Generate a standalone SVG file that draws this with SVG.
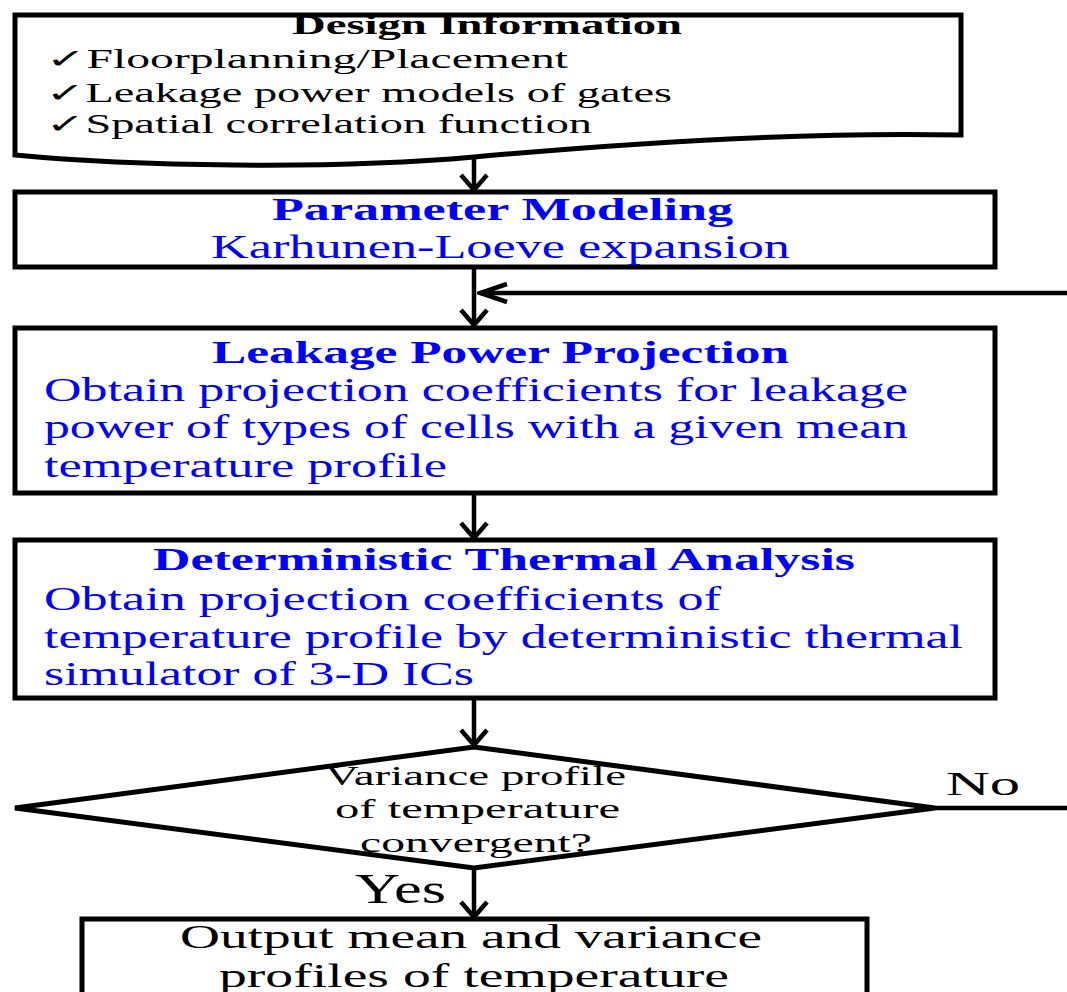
<svg xmlns="http://www.w3.org/2000/svg" width="1067" height="992" viewBox="0 0 1067 992">
<style>
.box{fill:#fff;stroke:#000;stroke-width:5;stroke-linejoin:miter}
.conn{fill:none;stroke:#000;stroke-width:4.5}
.t{font-family:"Liberation Serif","DejaVu Serif",serif}
.blk{fill:#000}
.blu{fill:#0000ff}
.b{font-weight:bold}
</style>
<defs>
<marker id="arr" markerUnits="userSpaceOnUse" viewBox="-4 -16 24 32" refX="15" refY="0" markerWidth="24" markerHeight="32" orient="auto">
<path d="M0,-13 L15,0 L0,13" fill="none" stroke="#000" stroke-width="4.5"/>
</marker>
<marker id="arr-long" markerUnits="userSpaceOnUse" viewBox="-4 -14 34 28" refX="27" refY="0" markerWidth="34" markerHeight="28" orient="auto">
<path d="M0,-9 L27,0 L0,9" fill="none" stroke="#000" stroke-width="4.5"/>
</marker>
</defs>
<rect width="1067" height="992" fill="#fff"/>
<g id="connectors">
<path class="conn" d="M474,157 V190" marker-end="url(#arr)"/>
<path class="conn" d="M474,267 V325" marker-end="url(#arr)"/>
<path class="conn" d="M935,808 H1080 V293 H480" marker-end="url(#arr-long)"/>
<path class="conn" d="M474,493 V538" marker-end="url(#arr)"/>
<path class="conn" d="M474,698 V745" marker-end="url(#arr)"/>
<path class="conn" d="M474,868 V917" marker-end="url(#arr)"/>
</g>
<g id="design-info">
<path class="box" d="M15,15 H961 V135 C820,132 640,142 474,157 C330,170 130,166 15,155 Z"/>
<text class="t blk b" x="292" y="34" font-size="28" textLength="390" lengthAdjust="spacingAndGlyphs">Design Information</text>
<text class="t blk" x="46" y="68" font-size="27" textLength="522" lengthAdjust="spacingAndGlyphs">✓Floorplanning/Placement</text>
<text class="t blk" x="46" y="102" font-size="27" textLength="626" lengthAdjust="spacingAndGlyphs">✓Leakage power models of gates</text>
<text class="t blk" x="46" y="133" font-size="27" textLength="546" lengthAdjust="spacingAndGlyphs">✓Spatial correlation function</text>
</g>
<g id="parameter-modeling">
<rect class="box" x="15" y="192" width="980" height="75"/>
<text class="t blu b" x="272" y="220" font-size="32" textLength="461" lengthAdjust="spacingAndGlyphs">Parameter Modeling</text>
<text class="t blu" x="211" y="258" font-size="33" textLength="579" lengthAdjust="spacingAndGlyphs">Karhunen-Loeve expansion</text>
</g>
<g id="leakage-power-projection">
<rect class="box" x="15" y="328" width="980" height="165"/>
<text class="t blu b" x="212" y="363" font-size="32" textLength="577" lengthAdjust="spacingAndGlyphs">Leakage Power Projection</text>
<text class="t blu" x="44" y="401" font-size="33" textLength="864" lengthAdjust="spacingAndGlyphs">Obtain projection coefficients for leakage</text>
<text class="t blu" x="44" y="438" font-size="33" textLength="864" lengthAdjust="spacingAndGlyphs">power of types of cells with a given mean</text>
<text class="t blu" x="44" y="477" font-size="33" textLength="403" lengthAdjust="spacingAndGlyphs">temperature profile</text>
</g>
<g id="deterministic-thermal-analysis">
<rect class="box" x="15" y="540" width="980" height="158"/>
<text class="t blu b" x="153" y="570" font-size="32" textLength="702" lengthAdjust="spacingAndGlyphs">Deterministic Thermal Analysis</text>
<text class="t blu" x="44" y="610" font-size="33" textLength="677" lengthAdjust="spacingAndGlyphs">Obtain projection coefficients of</text>
<text class="t blu" x="44" y="648" font-size="33" textLength="919" lengthAdjust="spacingAndGlyphs">temperature profile by deterministic thermal</text>
<text class="t blu" x="44" y="685" font-size="33" textLength="430" lengthAdjust="spacingAndGlyphs">simulator of 3-D ICs</text>
</g>
<g id="convergence-check">
<path class="box" d="M474,747 L935,808 L474,868 L15,808 Z"/>
<text class="t blk" x="325" y="785" font-size="28" textLength="301" lengthAdjust="spacingAndGlyphs">Variance profile</text>
<text class="t blk" x="335" y="818" font-size="28" textLength="285" lengthAdjust="spacingAndGlyphs">of temperature</text>
<text class="t blk" x="360" y="852" font-size="28" textLength="232" lengthAdjust="spacingAndGlyphs">convergent?</text>
<text class="t blk" x="946" y="795" font-size="34" textLength="74" lengthAdjust="spacingAndGlyphs">No</text>
<text class="t blk" x="355" y="903" font-size="42" textLength="91" lengthAdjust="spacingAndGlyphs">Yes</text>
</g>
<g id="output">
<rect class="box" x="82" y="919" width="785" height="90"/>
<text class="t blk" x="180" y="948" font-size="33" textLength="582" lengthAdjust="spacingAndGlyphs">Output mean and variance</text>
<text class="t blk" x="219" y="987" font-size="33" textLength="510" lengthAdjust="spacingAndGlyphs">profiles of temperature</text>
</g>
</svg>
